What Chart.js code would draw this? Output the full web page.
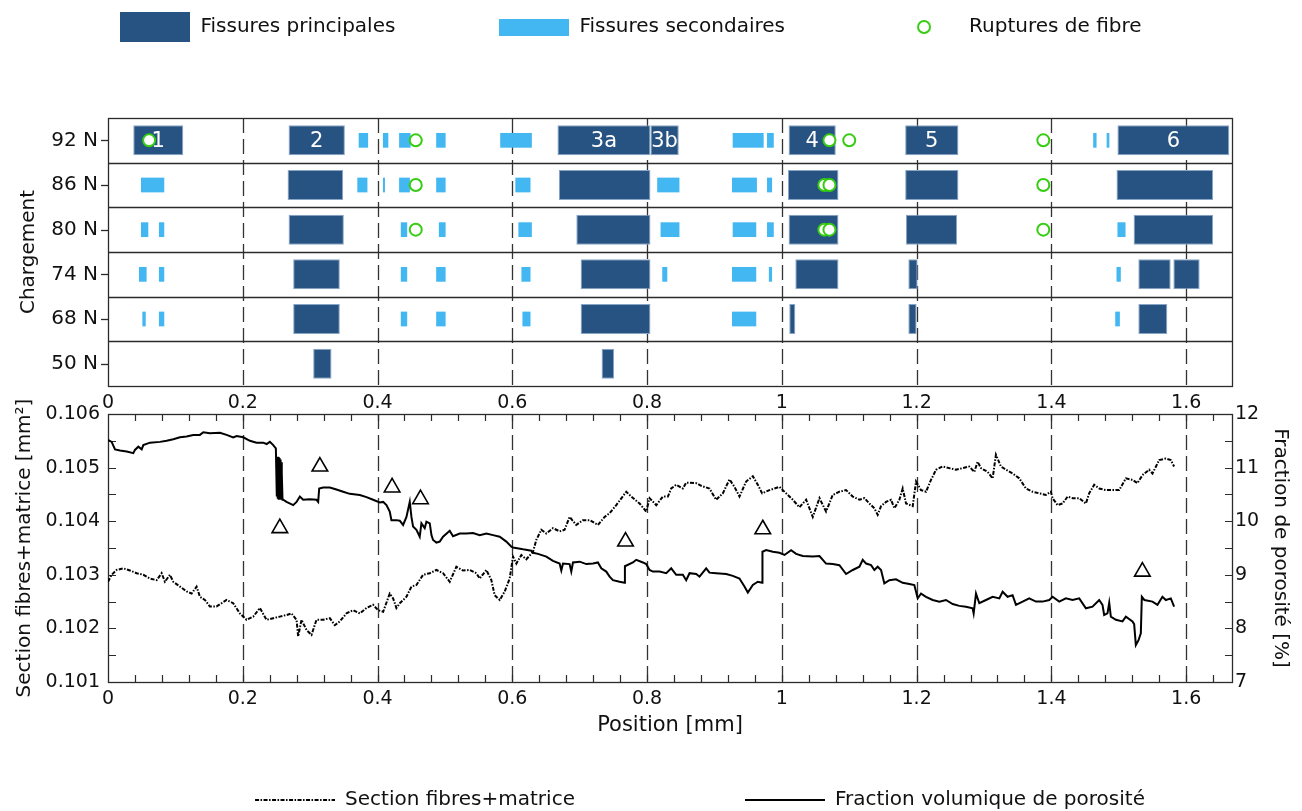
<!DOCTYPE html>
<html>
<head>
<meta charset="utf-8">
<script src="https://cdn.jsdelivr.net/npm/chart.js@4.4.1/dist/chart.umd.min.js"></script>
<style>
  html, body { margin: 0; padding: 0; background: #fff; overflow: hidden; width: 1302px; height: 811px; }
  #crackChart { position: absolute; left: -40px; top: -87px; }
  #profileChart { position: absolute; left: -62px; top: 390px; }
</style>
</head>
<body>
<canvas id="crackChart" width="1342" height="495"></canvas>
<canvas id="profileChart" width="1364" height="430"></canvas>
<script>
//
// Data - crack map (one entry per load level, top to bottom)
var loadLabels = ['92 N', '86 N', '80 N', '74 N', '68 N', '50 N'];

var mainCracks = [
  [[0.0375, 0.1117], [0.268, 0.3515], [0.667, 0.805], [0.805, 0.847], [1.010, 1.080], [1.183, 1.262], [1.498, 1.664]],
  [[0.2665, 0.349], [0.669, 0.805], [1.009, 1.084], [1.183, 1.262], [1.4966, 1.640]],
  [[0.268, 0.350], [0.695, 0.805], [1.010, 1.084], [1.184, 1.260], [1.522, 1.640]],
  [[0.2748, 0.344], [0.7014, 0.805], [1.020, 1.084], [1.1877, 1.2015], [1.529, 1.577], [1.581, 1.620]],
  [[0.2748, 0.344], [0.7014, 0.805], [1.011, 1.020], [1.1877, 1.200], [1.529, 1.572]],
  [[0.3045, 0.3317], [0.7325, 0.751]]
];

var secondaryCracks = [
  [[0.372, 0.386], [0.408, 0.416], [0.432, 0.449], [0.487, 0.501], [0.582, 0.629], [0.927, 0.973], [0.978, 0.988], [1.462, 1.467], [1.482, 1.486]],
  [[0.049, 0.0835], [0.370, 0.385], [0.408, 0.411], [0.432, 0.448], [0.487, 0.501], [0.6045, 0.627], [0.815, 0.848], [0.926, 0.963], [0.978, 0.9855]],
  [[0.049, 0.0598], [0.0756, 0.0835], [0.4345, 0.444], [0.491, 0.501], [0.609, 0.629], [0.820, 0.848], [0.927, 0.962], [0.978, 0.988], [1.498, 1.510]],
  [[0.046, 0.0573], [0.0756, 0.0835], [0.4345, 0.444], [0.487, 0.501], [0.6135, 0.627], [0.8225, 0.830], [0.926, 0.962], [0.9807, 0.9855], [1.4966, 1.503]],
  [[0.051, 0.056], [0.0756, 0.0835], [0.4345, 0.444], [0.487, 0.501], [0.615, 0.627], [0.926, 0.962], [1.4947, 1.5016]],
  []
];

var fibreRuptures = [
  [0.061, 0.4567, 1.0706, 1.100, 1.388],
  [0.4567, 1.063, 1.0706, 1.388],
  [0.4567, 1.063, 1.0706, 1.388],
  [], [], []
];

var crackNames = ['1', '2', '3a', '3b', '4', '5', '6'];
var crackNamePos = [0.0746, 0.3097, 0.736, 0.826, 1.045, 1.2225, 1.581];

//
// Data - profiles along the specimen
var positionTicks = [0.2, 0.4, 0.6, 0.8, 1.0, 1.2, 1.4, 1.6];

var sectionPos = [0.000, 0.0054, 0.0129, 0.0227, 0.0326, 0.0425, 0.0524, 0.0623, 0.0722, 0.0796, 0.0845, 0.0919, 0.0969, 0.1068, 0.1166, 0.1241, 0.1315, 0.1364, 0.1438, 0.1512, 0.1611, 0.176, 0.1858, 0.1957, 0.2056, 0.2155, 0.2254, 0.2353, 0.2452, 0.255, 0.2649, 0.2723, 0.2798, 0.2822, 0.2872, 0.2946, 0.302, 0.3094, 0.3193, 0.3292, 0.3366, 0.344, 0.3539, 0.3638, 0.3737, 0.3836, 0.3934, 0.4008, 0.4083, 0.4181, 0.4231, 0.428, 0.433, 0.4429, 0.4503, 0.4577, 0.4676, 0.4775, 0.4874, 0.4972, 0.5071, 0.517, 0.5269, 0.5368, 0.5467, 0.5516, 0.5615, 0.5689, 0.5738, 0.5813, 0.5887, 0.5961, 0.601, 0.606, 0.6134, 0.6208, 0.6307, 0.6356, 0.643, 0.6505, 0.6603, 0.6702, 0.6776, 0.685, 0.6949, 0.7048, 0.7147, 0.727, 0.737, 0.7444, 0.7542, 0.7691, 0.7765, 0.7889, 0.7987, 0.8037, 0.8136, 0.8234, 0.8309, 0.8358, 0.8432, 0.8531, 0.858, 0.8729, 0.8803, 0.8926, 0.9025, 0.9124, 0.9223, 0.9297, 0.9371, 0.947, 0.9569, 0.9643, 0.9707, 0.9816, 0.9964, 1.0063, 1.0162, 1.0261, 1.036, 1.0459, 1.0558, 1.0656, 1.0755, 1.0854, 1.0953, 1.1052, 1.1151, 1.1225, 1.1299, 1.1373, 1.1422, 1.1472, 1.1546, 1.162, 1.167, 1.1744, 1.1793, 1.1843, 1.1942, 1.1991, 1.2065, 1.2139, 1.2213, 1.2288, 1.2386, 1.2485, 1.2584, 1.2683, 1.2782, 1.2856, 1.2905, 1.2955, 1.3054, 1.3128, 1.3177, 1.3251, 1.3326, 1.3424, 1.3523, 1.3622, 1.3721, 1.382, 1.3919, 1.3993, 1.4017, 1.4092, 1.4166, 1.4241, 1.4314, 1.4413, 1.4512, 1.456, 1.4635, 1.4709, 1.4808, 1.4906, 1.5006, 1.5105, 1.5203, 1.5277, 1.5351, 1.545, 1.55, 1.5599, 1.5698, 1.5772, 1.5821];
var sectionVal = [0.10287, 0.10300, 0.10309, 0.10312, 0.10308, 0.10303, 0.10300, 0.10293, 0.10290, 0.10303, 0.10287, 0.10300, 0.10287, 0.10278, 0.10269, 0.10265, 0.10278, 0.10259, 0.10253, 0.10241, 0.10241, 0.10253, 0.10247, 0.10228, 0.10216, 0.10222, 0.10238, 0.10216, 0.10219, 0.10222, 0.10225, 0.10228, 0.10216, 0.10185, 0.10216, 0.10197, 0.10188, 0.10216, 0.10216, 0.10219, 0.10206, 0.10213, 0.10228, 0.10234, 0.10228, 0.10238, 0.10244, 0.10234, 0.10231, 0.10265, 0.10256, 0.10238, 0.10247, 0.10259, 0.10278, 0.10281, 0.10300, 0.10303, 0.10309, 0.10303, 0.10287, 0.10315, 0.10308, 0.10309, 0.10303, 0.10293, 0.10309, 0.10290, 0.10262, 0.10253, 0.10269, 0.10293, 0.10334, 0.10321, 0.10337, 0.10329, 0.10343, 0.10365, 0.10384, 0.10377, 0.10387, 0.10381, 0.10384, 0.10408, 0.10393, 0.10402, 0.10402, 0.10393, 0.10408, 0.10415, 0.10430, 0.10455, 0.10446, 0.10433, 0.10418, 0.10443, 0.10430, 0.10446, 0.10446, 0.10461, 0.10468, 0.10461, 0.10472, 0.10471, 0.10466, 0.10461, 0.10440, 0.10452, 0.10478, 0.10464, 0.10446, 0.10474, 0.10484, 0.10468, 0.10452, 0.10458, 0.10464, 0.10452, 0.10440, 0.10426, 0.10440, 0.10408, 0.10443, 0.10418, 0.10449, 0.10455, 0.10458, 0.10446, 0.10440, 0.10443, 0.10433, 0.10424, 0.10412, 0.10428, 0.10436, 0.10440, 0.10424, 0.10440, 0.10461, 0.10433, 0.10428, 0.10474, 0.10458, 0.10455, 0.10477, 0.10496, 0.10502, 0.10499, 0.10496, 0.10499, 0.10502, 0.10492, 0.10511, 0.10499, 0.10492, 0.10480, 0.10524, 0.10502, 0.10496, 0.10489, 0.10480, 0.10461, 0.10455, 0.10452, 0.10449, 0.10455, 0.10443, 0.10430, 0.10433, 0.10446, 0.10443, 0.10443, 0.10433, 0.10452, 0.10468, 0.10461, 0.10458, 0.10458, 0.10458, 0.10480, 0.10477, 0.10471, 0.10486, 0.10496, 0.10489, 0.10514, 0.10517, 0.10514, 0.10502];

var porosityPos = [0.000, 0.0054, 0.0104, 0.0178, 0.0277, 0.0376, 0.040, 0.045, 0.050, 0.0524, 0.0623, 0.0771, 0.087, 0.0969, 0.1068, 0.1166, 0.1265, 0.1364, 0.1414, 0.1512, 0.1661, 0.176, 0.1858, 0.1908, 0.2007, 0.2106, 0.2204, 0.2303, 0.2353, 0.2402, 0.2452, 0.2491, 0.2505, 0.2512, 0.2519, 0.2526, 0.2533, 0.254, 0.2547, 0.2554, 0.2561, 0.2568, 0.2575, 0.2582, 0.259, 0.26, 0.2649, 0.2748, 0.2798, 0.2847, 0.2896, 0.2995, 0.3094, 0.3119, 0.3134, 0.3193, 0.3292, 0.339, 0.349, 0.3588, 0.3737, 0.3836, 0.3934, 0.4033, 0.4083, 0.4132, 0.4181, 0.4206, 0.428, 0.433, 0.4379, 0.4429, 0.4478, 0.4503, 0.4527, 0.4577, 0.4626, 0.4651, 0.47, 0.4725, 0.4775, 0.48, 0.4824, 0.4874, 0.4923, 0.4972, 0.5071, 0.512, 0.522, 0.5318, 0.5417, 0.5516, 0.5615, 0.5714, 0.5813, 0.5911, 0.5986, 0.601, 0.6159, 0.6282, 0.6307, 0.6381, 0.6505, 0.6603, 0.6702, 0.6727, 0.6752, 0.685, 0.6875, 0.69, 0.6999, 0.7098, 0.7197, 0.727, 0.732, 0.7394, 0.7444, 0.7493, 0.7592, 0.7666, 0.7671, 0.779, 0.7839, 0.7938, 0.7987, 0.8037, 0.8086, 0.8185, 0.8284, 0.8358, 0.8432, 0.8531, 0.858, 0.863, 0.8729, 0.8778, 0.8877, 0.8926, 0.9025, 0.9174, 0.9272, 0.9371, 0.9445, 0.9495, 0.9569, 0.9643, 0.9707, 0.9712, 0.9767, 0.9866, 0.9964, 1.0039, 1.0137, 1.0212, 1.031, 1.0459, 1.0558, 1.0656, 1.0755, 1.0854, 1.0953, 1.1052, 1.1151, 1.12, 1.125, 1.1324, 1.1373, 1.1422, 1.1472, 1.1521, 1.1595, 1.1694, 1.1793, 1.1892, 1.1966, 1.2016, 1.2065, 1.2139, 1.2238, 1.2337, 1.2436, 1.2535, 1.2633, 1.2732, 1.2831, 1.2846, 1.2881, 1.293, 1.3029, 1.3128, 1.3227, 1.3276, 1.335, 1.3424, 1.3474, 1.3573, 1.3671, 1.377, 1.3869, 1.3968, 1.4017, 1.4116, 1.4215, 1.4314, 1.4413, 1.4512, 1.461, 1.4709, 1.4758, 1.4783, 1.4832, 1.4858, 1.4882, 1.4957, 1.5055, 1.5105, 1.5203, 1.5228, 1.5253, 1.5293, 1.5327, 1.5342, 1.538, 1.55, 1.5574, 1.5648, 1.5698, 1.5772, 1.5821];
var porosityVal = [11.515, 11.48, 11.34, 11.32, 11.30, 11.27, 11.33, 11.39, 11.34, 11.42, 11.465, 11.48, 11.50, 11.53, 11.565, 11.58, 11.61, 11.61, 11.66, 11.64, 11.65, 11.61, 11.565, 11.59, 11.565, 11.50, 11.465, 11.465, 11.44, 11.48, 11.42, 11.36, 10.46, 11.20, 10.42, 11.20, 10.40, 11.18, 10.40, 11.15, 10.40, 11.10, 10.40, 10.90, 10.40, 10.40, 10.36, 10.30, 10.36, 10.46, 10.40, 10.41, 10.40, 10.36, 10.61, 10.63, 10.63, 10.59, 10.55, 10.51, 10.49, 10.45, 10.40, 10.35, 10.36, 10.30, 10.18, 10.02, 10.02, 10.01, 9.93, 10.08, 10.36, 10.08, 9.90, 9.84, 9.71, 9.96, 9.87, 9.99, 9.96, 9.74, 9.65, 9.60, 9.62, 9.71, 9.82, 9.72, 9.77, 9.77, 9.78, 9.74, 9.77, 9.74, 9.71, 9.62, 9.525, 9.51, 9.475, 9.45, 9.41, 9.39, 9.34, 9.26, 9.21, 9.08, 9.21, 9.20, 9.06, 9.23, 9.245, 9.20, 9.21, 9.23, 9.12, 9.06, 8.965, 8.90, 8.87, 8.85, 9.16, 9.23, 9.28, 9.23, 9.20, 9.09, 9.06, 9.06, 9.03, 9.12, 9.00, 9.00, 8.90, 9.03, 9.015, 8.965, 9.12, 9.04, 9.03, 9.015, 8.98, 8.93, 8.78, 8.67, 8.81, 8.87, 8.85, 9.43, 9.46, 9.43, 9.41, 9.37, 9.46, 9.39, 9.35, 9.34, 9.35, 9.21, 9.20, 9.18, 9.015, 9.09, 9.15, 9.28, 9.21, 9.18, 9.09, 9.15, 9.09, 8.84, 8.90, 8.915, 8.85, 8.83, 8.81, 8.56, 8.65, 8.59, 8.53, 8.50, 8.53, 8.455, 8.42, 8.405, 8.375, 8.28, 8.65, 8.47, 8.53, 8.59, 8.56, 8.685, 8.59, 8.62, 8.44, 8.50, 8.56, 8.50, 8.50, 8.53, 8.59, 8.50, 8.56, 8.53, 8.56, 8.375, 8.405, 8.53, 8.44, 8.25, 8.28, 8.48, 8.22, 8.16, 8.13, 8.22, 8.13, 8.08, 7.69, 7.78, 7.91, 8.59, 8.53, 8.50, 8.44, 8.59, 8.53, 8.56, 8.405];

var trianglePos = [0.255, 0.3144, 0.4216, 0.4637, 0.768, 0.9717, 1.535];
var triangleVal = [0.10387, 0.10502, 0.10463, 0.10441, 0.10362, 0.10385, 0.10306];

//
// Styles
var FONT = "'DejaVu Sans', 'Liberation Sans', sans-serif";
var MAIN_BLUE = '#275382';
var LIGHT_BLUE = '#43b7f1';
var GREEN = '#35cc12';
var INK = '#111';
var FRAME = '#2b2b2b';

Chart.defaults.font.family = FONT;
Chart.defaults.color = INK;

//
// Helpers
function barPoints(rows) {
  var pts = [];
  rows.forEach(function(row, i) {
    row.forEach(function(seg) { pts.push({ x: seg, y: loadLabels[i] }); });
  });
  return pts;
}

function rupturePoints() {
  var pts = [];
  fibreRuptures.forEach(function(row, i) {
    row.forEach(function(p) { pts.push({ x: p, y: loadLabels[i] }); });
  });
  return pts;
}

function pairs(xs, ys) {
  return xs.map(function(x, i) { return { x: x, y: ys[i] }; });
}

function icon(w, h, draw) {
  var c = document.createElement('canvas');
  c.width = w; c.height = h;
  draw(c.getContext('2d'));
  return c;
}

function hiddenAxis(position, size) {
  var vertical = position === 'left' || position === 'right';
  return {
    type: 'linear', position: position, min: 0, max: 1.668,
    ticks: { display: false },
    grid: { display: false, drawTicks: false },
    border: { display: false },
    afterFit: function(s) { if (vertical) { s.width = size; } else { s.height = size; } }
  };
}

function dashedGuides(chart) {
  var ctx = chart.ctx, a = chart.chartArea, x = chart.scales.x;
  ctx.save();
  ctx.strokeStyle = '#333';
  ctx.lineWidth = 1.3;
  ctx.setLineDash([15, 6]);
  positionTicks.forEach(function(v) {
    var px = Math.round(x.getPixelForValue(v)) + 0.5;
    ctx.beginPath();
    ctx.moveTo(px, a.top);
    ctx.lineTo(px, a.bottom);
    ctx.stroke();
  });
  ctx.restore();
}

function frame(chart) {
  var ctx = chart.ctx, a = chart.chartArea;
  ctx.save();
  ctx.strokeStyle = FRAME;
  ctx.lineWidth = 1.3;
  ctx.strokeRect(Math.round(a.left) + 0.5, Math.round(a.top) + 0.5, Math.round(a.right - a.left), Math.round(a.bottom - a.top));
  ctx.restore();
}

//
// Legend icons
var iconMain = icon(70, 30, function(g) { g.fillStyle = MAIN_BLUE; g.fillRect(0, 0, 70, 30); });
var iconSecondary = icon(70, 30, function(g) { g.fillStyle = LIGHT_BLUE; g.fillRect(0, 7, 70, 17); });
var iconRupture = icon(70, 30, function(g) {
  g.strokeStyle = GREEN; g.lineWidth = 2; g.fillStyle = '#fff';
  g.beginPath(); g.arc(35, 15, 6, 0, Math.PI * 2); g.fill(); g.stroke();
});
var iconSection = icon(240, 12, function(g) {
  g.strokeStyle = '#000'; g.lineWidth = 2; g.setLineDash([4, 1.5, 1.5, 1.5]);
  g.beginPath(); g.moveTo(160, 6); g.lineTo(240, 6); g.stroke();
});
var iconPorosity = icon(240, 12, function(g) {
  g.strokeStyle = '#000'; g.lineWidth = 2;
  g.beginPath(); g.moveTo(160, 6); g.lineTo(240, 6); g.stroke();
});

//
// Crack map chart
var crackDecor = {
  id: 'crackDecor',
  beforeDatasetsDraw: function(chart) {
    var ctx = chart.ctx, a = chart.chartArea, y = chart.scales.y;
    dashedGuides(chart);
    ctx.save();
    ctx.strokeStyle = FRAME;
    ctx.lineWidth = 1.3;
    for (var k = 1; k < loadLabels.length; k++) {
      var py = Math.round(y.getPixelForValue(k - 0.5)) + 0.5;
      ctx.beginPath(); ctx.moveTo(a.left, py); ctx.lineTo(a.right, py); ctx.stroke();
    }
    for (var i = 0; i < loadLabels.length; i++) {
      var cy = Math.round(y.getPixelForValue(i)) + 0.5;
      ctx.beginPath(); ctx.moveTo(a.left - 7, cy); ctx.lineTo(a.left, cy); ctx.stroke();
    }
    ctx.restore();
    frame(chart);
  },
  afterDatasetsDraw: function(chart) {
    var ctx = chart.ctx, x = chart.scales.x, y = chart.scales.y;
    ctx.save();
    ctx.fillStyle = '#fff';
    ctx.font = '21px ' + FONT;
    ctx.textAlign = 'center';
    ctx.textBaseline = 'middle';
    crackNames.forEach(function(t, i) {
      ctx.fillText(t, x.getPixelForValue(crackNamePos[i]), y.getPixelForValue(0) + 1);
    });
    ctx.restore();
  }
};

new Chart(document.getElementById('crackChart'), {
  type: 'bar',
  data: {
    labels: loadLabels,
    datasets: [{
      label: 'Fissures principales',
      data: barPoints(mainCracks),
      xAxisID: 'x', yAxisID: 'y',
      backgroundColor: MAIN_BLUE,
      borderColor: '#8aa6c6',
      borderWidth: 1,
      borderSkipped: false,
      grouped: false,
      categoryPercentage: 1,
      barPercentage: 0.67
    }, {
      label: 'Fissures secondaires',
      data: barPoints(secondaryCracks),
      xAxisID: 'x', yAxisID: 'y',
      backgroundColor: LIGHT_BLUE,
      borderWidth: 0,
      grouped: false,
      categoryPercentage: 1,
      barPercentage: 0.33
    }, {
      type: 'scatter',
      label: 'Ruptures de fibre',
      data: rupturePoints(),
      xAxisID: 'x', yAxisID: 'y',
      pointStyle: 'circle',
      pointRadius: 6,
      borderWidth: 2,
      borderColor: GREEN,
      backgroundColor: '#fff',
      order: -1
    }]
  },
  options: {
    indexAxis: 'y',
    responsive: false,
    animation: false,
    devicePixelRatio: 1,
    layout: { padding: 0 },
    plugins: {
      tooltip: { enabled: false },
      legend: {
        position: 'top',
        labels: {
          usePointStyle: true,
          pointStyleWidth: 70,
          padding: 104,
          font: { size: 20 },
          generateLabels: function() {
            return [
              { text: 'Fissures principales', pointStyle: iconMain, fontColor: INK, lineWidth: 0, hidden: false, datasetIndex: 0 },
              { text: 'Fissures secondaires', pointStyle: iconSecondary, fontColor: INK, lineWidth: 0, hidden: false, datasetIndex: 1 },
              { text: 'Ruptures de fibre', pointStyle: iconRupture, fontColor: INK, lineWidth: 0, hidden: false, datasetIndex: 2 }
            ];
          }
        }
      }
    },
    scales: {
      x: hiddenAxis('bottom', 4),
      x2: hiddenAxis('top', 71),
      y: {
        type: 'category',
        position: 'left',
        offset: true,
        ticks: { padding: 10, font: { size: 20 } },
        grid: { display: false, drawTicks: false, offset: true },
        border: { display: false },
        title: { display: true, text: 'Chargement', font: { size: 20 }, padding: { top: 57, bottom: 0 } },
        afterFit: function(s) { s.width = 148; }
      },
      y2: hiddenAxis('right', 70)
    }
  },
  plugins: [crackDecor]
});

//
// Profile chart
var profileDecor = {
  id: 'profileDecor',
  beforeDatasetsDraw: function(chart) {
    var ctx = chart.ctx, a = chart.chartArea, x = chart.scales.x, yl = chart.scales.y, yr = chart.scales.y1;
    var v, p;
    dashedGuides(chart);
    ctx.save();
    ctx.strokeStyle = FRAME;
    ctx.lineWidth = 1.2;
    ctx.beginPath();
    for (v = 0.04; v < 1.66; v += 0.04) {
      p = Math.round(x.getPixelForValue(v)) + 0.5;
      ctx.moveTo(p, a.bottom); ctx.lineTo(p, a.bottom - 7);
      ctx.moveTo(p, a.top); ctx.lineTo(p, a.top + 7);
    }
    for (v = 0.1015; v < 0.1059; v += 0.0005) {
      p = Math.round(yl.getPixelForValue(v)) + 0.5;
      ctx.moveTo(a.left, p); ctx.lineTo(a.left + 8, p);
    }
    for (v = 7.5; v < 11.9; v += 0.5) {
      p = Math.round(yr.getPixelForValue(v)) + 0.5;
      ctx.moveTo(a.right, p); ctx.lineTo(a.right - 7, p);
    }
    ctx.stroke();
    ctx.restore();
    frame(chart);
  }
};

function positionLabel(v) {
  return String(Math.round(v * 10) / 10);
}

var positionAxisTicks = { stepSize: 0.2, includeBounds: false, autoSkip: false, maxRotation: 0, font: { size: 19 }, callback: positionLabel };

new Chart(document.getElementById('profileChart'), {
  type: 'line',
  data: {
    datasets: [{
      label: 'Section fibres+matrice',
      data: pairs(sectionPos, sectionVal),
      yAxisID: 'y',
      borderColor: '#000',
      borderWidth: 2,
      borderDash: [4, 1.5, 1.5, 1.5],
      pointRadius: 0,
      fill: false,
      tension: 0
    }, {
      label: 'Fraction volumique de porosité',
      data: pairs(porosityPos, porosityVal),
      yAxisID: 'y1',
      borderColor: '#000',
      borderWidth: 2,
      pointRadius: 0,
      fill: false,
      tension: 0
    }, {
      type: 'scatter',
      label: 'Ruptures de fibre',
      data: pairs(trianglePos, triangleVal),
      yAxisID: 'y',
      pointStyle: 'triangle',
      pointRadius: 9,
      borderWidth: 1.6,
      borderColor: '#000',
      backgroundColor: 'rgba(255,255,255,0)'
    }]
  },
  options: {
    responsive: false,
    animation: false,
    devicePixelRatio: 1,
    layout: { padding: 0 },
    plugins: {
      tooltip: { enabled: false },
      legend: {
        position: 'bottom',
        labels: {
          usePointStyle: true,
          pointStyleWidth: 240,
          padding: 10,
          font: { size: 20 },
          generateLabels: function() {
            return [
              { text: 'Section fibres+matrice', pointStyle: iconSection, fontColor: INK, lineWidth: 0, hidden: false, datasetIndex: 0 },
              { text: 'Fraction volumique de porosité', pointStyle: iconPorosity, fontColor: INK, lineWidth: 0, hidden: false, datasetIndex: 1 }
            ];
          }
        }
      }
    },
    scales: {
      x: {
        type: 'linear', position: 'bottom', min: 0, max: 1.668,
        ticks: Object.assign({ padding: 6 }, positionAxisTicks),
        grid: { display: false, drawTicks: false },
        border: { display: false },
        title: { display: true, text: 'Position [mm]', font: { size: 21 }, padding: { top: 0, bottom: 42 } },
        afterFit: function(s) { s.height = 98; }
      },
      x2: {
        type: 'linear', position: 'top', min: 0, max: 1.668,
        ticks: Object.assign({ padding: 0 }, positionAxisTicks),
        grid: { display: false, drawTicks: false },
        border: { display: false },
        afterFit: function(s) { s.height = 24; }
      },
      y: {
        type: 'linear', position: 'left', min: 0.101, max: 0.106,
        ticks: { stepSize: 0.001, padding: 8, font: { size: 19 } },
        grid: { display: false, drawTicks: false },
        border: { display: false },
        title: { display: true, text: 'Section fibres+matrice [mm²]', font: { size: 20 }, padding: { top: 75, bottom: 0 } },
        afterFit: function(s) { s.width = 170; }
      },
      y1: {
        type: 'linear', position: 'right', min: 7, max: 12,
        ticks: { stepSize: 1, padding: 3, font: { size: 19 } },
        grid: { display: false, drawTicks: false },
        border: { display: false },
        title: { display: true, text: 'Fraction de porosité [%]', font: { size: 20 }, padding: { top: 10, bottom: 0 } },
        afterFit: function(s) { s.width = 70; }
      }
    }
  },
  plugins: [profileDecor]
});
</script>
</body>
</html>
